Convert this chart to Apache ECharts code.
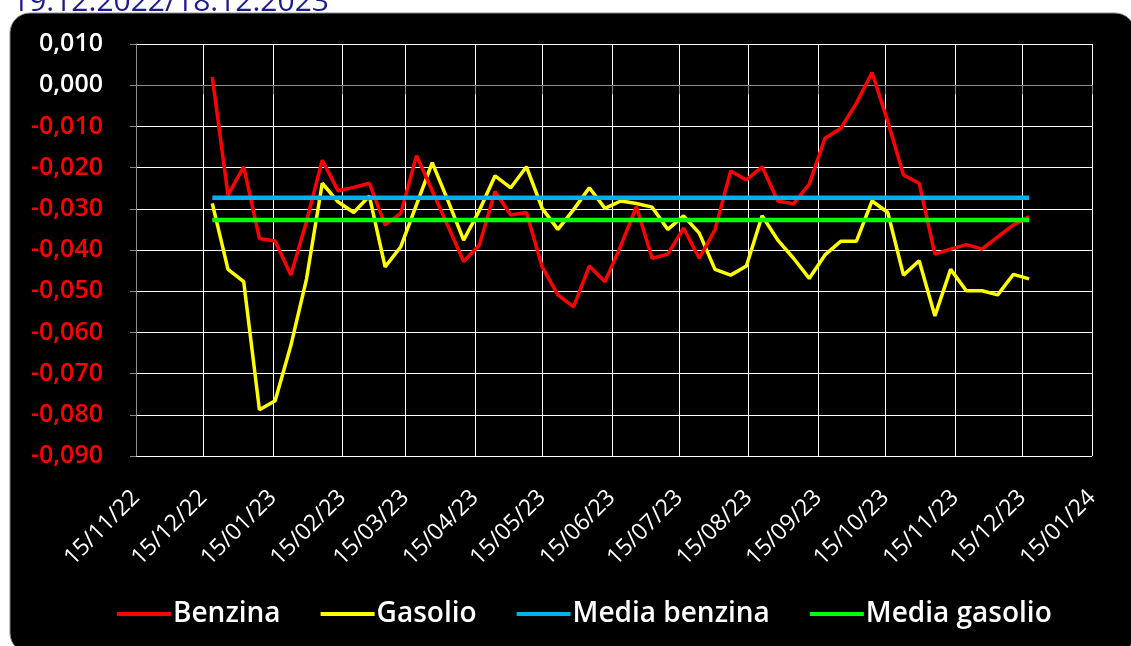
<!DOCTYPE html>
<html>
<head>
<meta charset="utf-8">
<script src="https://cdn.jsdelivr.net/npm/echarts@6/dist/echarts.min.js"></script>
<style>
html,body{margin:0;padding:0;background:#fff;}
#chart{width:1131px;height:646px;}
</style>
</head>
<body>
<div id="chart"></div>
<script>
// Weekly survey dates (Mondays)
const weekDates = [
 '2022-12-19','2022-12-26','2023-01-02','2023-01-09','2023-01-16','2023-01-23','2023-01-30',
 '2023-02-06','2023-02-13','2023-02-20','2023-02-27','2023-03-06','2023-03-13','2023-03-20',
 '2023-03-27','2023-04-03','2023-04-10','2023-04-17','2023-04-24','2023-05-01','2023-05-08',
 '2023-05-15','2023-05-22','2023-05-29','2023-06-05','2023-06-12','2023-06-19','2023-06-26',
 '2023-07-03','2023-07-10','2023-07-17','2023-07-24','2023-07-31','2023-08-07','2023-08-14',
 '2023-08-21','2023-08-28','2023-09-04','2023-09-11','2023-09-18','2023-09-25','2023-10-02',
 '2023-10-09','2023-10-16','2023-10-23','2023-10-30','2023-11-06','2023-11-13','2023-11-20',
 '2023-11-27','2023-12-04','2023-12-11','2023-12-18'
];
const benzina = [
 0.002,-0.0267,-0.0198,-0.0372,-0.0378,-0.0461,-0.033,
 -0.0182,-0.0256,-0.0248,-0.0238,-0.0339,-0.0311,-0.0171,
 -0.0256,-0.0342,-0.0428,-0.0388,-0.0258,-0.0315,-0.0309,
 -0.0441,-0.0509,-0.0538,-0.0439,-0.0477,-0.039,-0.0295,
 -0.042,-0.041,-0.0347,-0.042,-0.0351,-0.0208,-0.023,
 -0.0198,-0.0281,-0.0288,-0.024,-0.0129,-0.0105,-0.0044,
 0.0031,-0.0088,-0.0218,-0.0238,-0.041,-0.0398,-0.0387,
 -0.0398,-0.0368,-0.0339,-0.0319
];
const gasolio = [
 -0.0287,-0.0447,-0.0477,-0.0788,-0.0766,-0.0632,-0.047,
 -0.0238,-0.0283,-0.0309,-0.0269,-0.0441,-0.0392,-0.029,
 -0.0188,-0.028,-0.0376,-0.0304,-0.022,-0.0249,-0.0198,
 -0.0299,-0.035,-0.0302,-0.0249,-0.0299,-0.0281,-0.0287,
 -0.0296,-0.035,-0.0317,-0.0359,-0.0447,-0.0461,-0.0439,
 -0.0317,-0.0376,-0.042,-0.0469,-0.0412,-0.0379,-0.0379,
 -0.0281,-0.0309,-0.0461,-0.0426,-0.056,-0.0447,-0.0499,
 -0.0499,-0.0509,-0.0459,-0.047
];
const mediaBenzina = -0.0273;
const mediaGasolio = -0.0327;
const axisStart = '2022-11-15';
const axisEnd = '2024-01-15';
const yTicks = {min: -0.09, max: 0.01, interval: 0.01};
const titleText = '19.12.2022/18.12.2023';

// daily category axis
const days = [];
(function(){
  let d = new Date(axisStart + 'T00:00:00Z');
  const e = new Date(axisEnd + 'T00:00:00Z');
  while (d <= e) {
    days.push(d.toISOString().slice(0,10));
    d = new Date(d.getTime() + 86400000);
  }
})();
const is15 = (i, v) => v.slice(8,10) === '15';
const pair = (arr) => weekDates.map((d,i)=>[d, arr[i]]);
const flat = (v) => [[weekDates[0], v],[weekDates[weekDates.length-1], v]];

const chart = echarts.init(document.getElementById('chart'));
chart.setOption({
  backgroundColor: '#ffffff',
  animation: false,
  graphic: [
    {type:'rect', z:-10, shape:{x:10,y:13,width:1125,height:640,r:20},
     style:{fill:'#000', stroke:'#8a8a8a', lineWidth:1}},
    {type:'text', left: 12, top: -13, z: 10,
     style:{text:titleText, fill:'#1c1c8c', font:'30px "Open Sans"'}}
  ],
  grid: {left:136, top:44, right:39, bottom:190, containLabel:false},
  legend: {
    bottom: 13, left: 112,
    icon: 'rect', itemWidth: 54, itemHeight: 4, itemGap: 40,
    textStyle: {color:'#fff', fontFamily:'Open Sans', fontWeight:600, fontSize:28, padding:[0,0,0,-3]},
    data: ['Benzina','Gasolio','Media benzina','Media gasolio']
  },
  xAxis: {
    type:'category', data: days, boundaryGap:false,
    axisLine:{show:true, lineStyle:{color:'#8c8c8c', width:1}},
    axisTick:{show:true, interval:is15, length:9, lineStyle:{color:'#8c8c8c'}},
    splitLine:{show:true, interval:is15, lineStyle:{color:'#ffffff', width:1}},
    axisLabel:{
      interval:is15, rotate:45, margin:38, color:'#fff',
      fontFamily:'Open Sans', fontSize:23,
      formatter: v => v.slice(8,10)+'/'+v.slice(5,7)+'/'+v.slice(2,4)
    }
  },
  yAxis: {
    type:'value', min:yTicks.min, max:yTicks.max, interval:yTicks.interval,
    axisLine:{show:true, lineStyle:{color:'#8c8c8c'}},
    axisTick:{show:true, length:6, lineStyle:{color:'#8c8c8c'}},
    splitLine:{show:true, lineStyle:{color:'#ffffff', width:1}},
    axisLabel:{
      margin:33, fontFamily:'Open Sans', fontWeight:600, fontSize:25,
      color: v => (+v < -1e-9 ? '#ff0000' : '#ffffff'),
      formatter: v => (Math.abs(v) < 1e-9 ? 0 : v).toFixed(3).replace('.', ',')
    }
  },
  series: [
    {name:'Benzina', type:'line', data:pair(benzina), showSymbol:false, color:'#ff0000',
     lineStyle:{width:3.5, color:'#ff0000'}, z:3},
    {name:'Gasolio', type:'line', data:pair(gasolio), showSymbol:false, color:'#ffff00',
     lineStyle:{width:3.5, color:'#ffff00'}, z:2},
    {name:'Media benzina', type:'line', data:flat(mediaBenzina), showSymbol:false, color:'#00b0f0',
     lineStyle:{width:4.5, color:'#00b0f0'}, z:4},
    {name:'Media gasolio', type:'line', data:flat(mediaGasolio), showSymbol:false, color:'#00ff00',
     lineStyle:{width:4.5, color:'#00ff00'}, z:4}
  ]
});
</script>
</body>
</html>
